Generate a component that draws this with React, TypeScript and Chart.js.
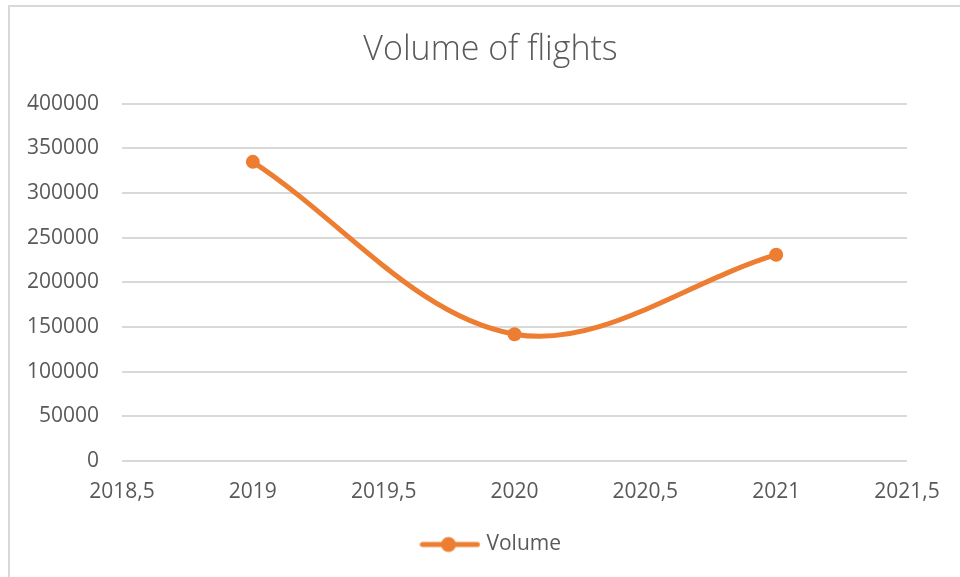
import React, { useEffect, useRef } from "react";
import { Chart, registerables } from "chart.js";

Chart.register(...registerables);

const chartTitle = "Volume of flights";
const seriesName = "Volume";
const years = [2019, 2020, 2021];
const volumes = [335000, 142000, 231000];
const xMin = 2018.5;
const xMax = 2021.5;
const xStep = 0.5;
const yMin = 0;
const yMax = 400000;
const yStep = 50000;

const ORANGE = "#ED7D31";
const TEXT = "#595959";
const GRID = "#D9D9D9";
const FONT = "'Open Sans', 'Noto Sans', sans-serif";

function makeLegendIcon(): HTMLCanvasElement {
  const c = document.createElement("canvas");
  c.width = 61;
  c.height = 18;
  const g = c.getContext("2d")!;
  g.strokeStyle = ORANGE;
  g.lineWidth = 5;
  g.lineCap = "round";
  g.beginPath();
  g.moveTo(3, 9);
  g.lineTo(58, 9);
  g.stroke();
  g.fillStyle = ORANGE;
  g.beginPath();
  g.arc(29, 9, 7.5, 0, Math.PI * 2);
  g.fill();
  return c;
}

// shifts the title and legend boxes so they are centred on the whole chart frame
const centreBoxes = {
  id: "centreBoxes",
  afterLayout(chart: any) {
    const t = chart.titleBlock;
    if (t) {
      t.left += 32;
      t.right += 32;
    }
    const l = chart.legend;
    if (l) {
      l.left += 34;
      l.right += 34;
    }
  },
};

export default function App() {
  const ref = useRef<HTMLCanvasElement | null>(null);

  useEffect(() => {
    if (!ref.current) return;
    const icon = makeLegendIcon();
    const chart = new Chart(ref.current, {
      type: "line",
      data: {
        datasets: [
          {
            label: seriesName,
            data: years.map((y, i) => ({ x: y, y: volumes[i] })),
            borderColor: ORANGE,
            backgroundColor: ORANGE,
            borderWidth: 5,
            pointRadius: 7,
            pointBackgroundColor: ORANGE,
            pointBorderWidth: 0,
            tension: 0.35,
            borderCapStyle: "round",
          },
        ],
      },
      plugins: [centreBoxes],
      options: {
        animation: false,
        responsive: false,
        layout: { padding: { left: 10, right: 53, top: 0, bottom: 12 } },
        plugins: {
          title: {
            display: true,
            text: chartTitle,
            color: TEXT,
            font: { family: FONT, size: 34, weight: "300" as any, lineHeight: 1.2 },
            padding: { top: 30, bottom: 33 },
          },
          legend: {
            position: "bottom",
            labels: {
              color: TEXT,
              font: { family: FONT, size: 21 },
              padding: 10,
              usePointStyle: true,
              pointStyleWidth: 52,
              generateLabels: (ch: any) =>
                ch.data.datasets.map((ds: any, i: number) => ({
                  text: ds.label,
                  fontColor: TEXT,
                  pointStyle: icon,
                  datasetIndex: i,
                  lineWidth: 0,
                })),
            },
          },
          tooltip: { enabled: false },
        },
        scales: {
          x: {
            type: "linear",
            min: xMin,
            max: xMax,
            ticks: {
              stepSize: xStep,
              color: TEXT,
              font: { family: FONT, size: 21 },
              padding: 18,
              maxRotation: 0,
              callback: (v: any) => String(v).replace(".", ","),
            },
            grid: { display: false, drawTicks: false },
            border: { display: false },
            afterFit: (s: any) => {
              s.height = 63;
            },
          },
          y: {
            min: yMin,
            max: yMax,
            ticks: {
              stepSize: yStep,
              color: TEXT,
              font: { family: FONT, size: 21 },
              padding: 23,
              callback: (v: any) => String(v),
            },
            grid: { color: GRID, lineWidth: 2, drawTicks: false },
            border: { display: false },
            afterFit: (s: any) => {
              s.width = 112;
            },
          },
        },
      },
    });
    return () => chart.destroy();
  }, []);

  return (
    <div
      style={{
        position: "fixed",
        left: 0,
        top: 0,
        width: 960,
        height: 577,
        background: "#fff",
        overflow: "hidden",
      }}
    >
      <div
        style={{
          position: "absolute",
          left: 8,
          top: 5,
          width: 960,
          height: 600,
          borderLeft: "2px solid #D9D9D9",
          borderTop: "2px solid #D9D9D9",
        }}
      />
      <canvas
        ref={ref}
        width={960}
        height={577}
        style={{ position: "absolute", left: 0, top: 0, width: 960, height: 577 }}
      />
    </div>
  );
}
